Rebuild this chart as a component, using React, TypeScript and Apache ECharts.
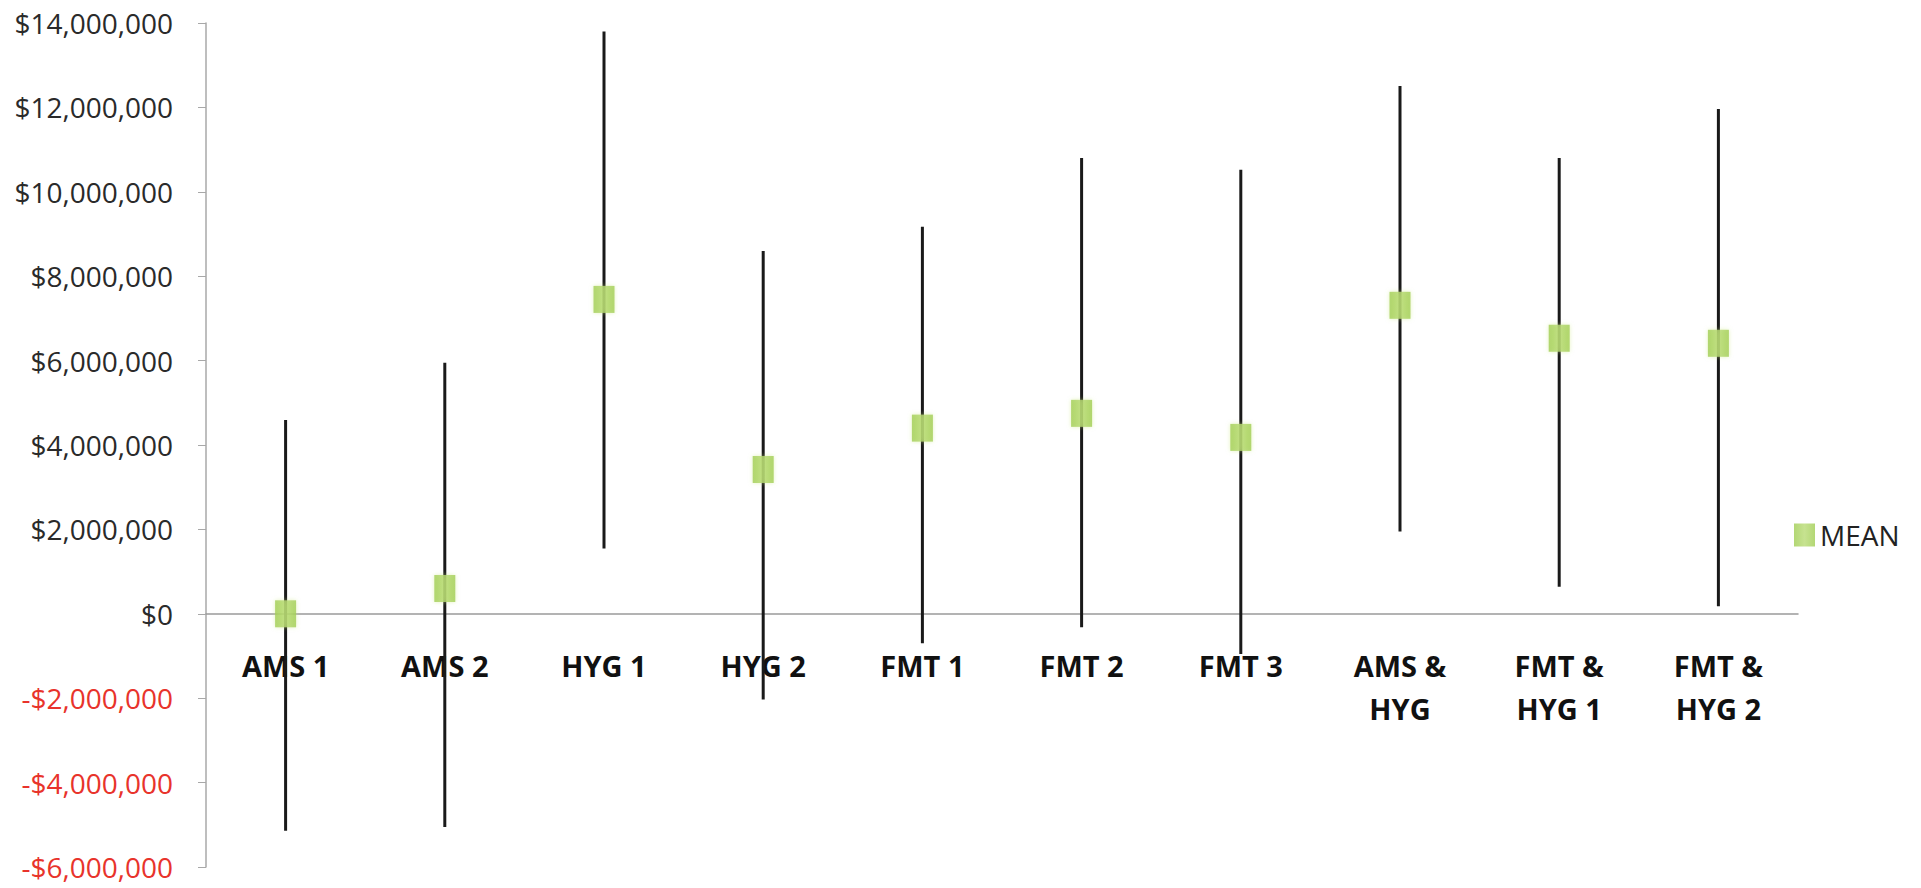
import React, { useEffect, useRef } from "react";
import * as echarts from "echarts";

const categories = [
  "AMS 1",
  "AMS 2",
  "HYG 1",
  "HYG 2",
  "FMT 1",
  "FMT 2",
  "FMT 3",
  "AMS &\nHYG",
  "FMT &\nHYG 1",
  "FMT &\nHYG 2",
];
const meanValues = [0, 600000, 7450000, 3420000, 4400000, 4750000, 4180000, 7310000, 6530000, 6410000];
const highValues = [4590000, 5950000, 13800000, 8600000, 9170000, 10800000, 10520000, 12510000, 10800000, 11960000];
const lowValues = [-5140000, -5050000, 1550000, -2030000, -700000, -320000, -950000, 1950000, 640000, 180000];

const yMin = -6000000;
const yMax = 14000000;
const yInterval = 2000000;

function fmtMoney(v: number): string {
  const abs = Math.abs(v).toLocaleString("en-US");
  return (v < 0 ? "-$" : "$") + abs;
}

export default function App() {
  const ref = useRef<HTMLDivElement>(null);
  useEffect(() => {
    document.body.style.margin = "0";
    if (!ref.current) return;
    const chart = echarts.init(ref.current, undefined, { renderer: "svg" });
    const errData = categories.map((_, i) => [i, lowValues[i], highValues[i]]);
    const labelData = categories.map((_, i) => [i, 0]);
    chart.setOption({
      animation: false,
      backgroundColor: "#ffffff",
      grid: { left: 206, right: 123, top: 23, bottom: 21, containLabel: false, outerBoundsMode: "none" },
      legend: {
        data: ["MEAN"],
        left: 1794,
        top: 521,
        padding: 0,
        orient: "vertical",
        icon: "rect",
        itemWidth: 21,
        itemHeight: 23,
        itemGap: 6,
        textStyle: { fontFamily: "Open Sans", fontSize: 28, color: "#222222", lineHeight: 28 },
      },
      xAxis: {
        type: "category",
        data: categories,
        boundaryGap: true,
        axisLine: { onZero: true, lineStyle: { color: "#9a9a9a", width: 1.5 } },
        axisTick: { show: false },
        splitLine: { show: false },
        axisLabel: { show: false },
      },
      yAxis: {
        type: "value",
        min: yMin,
        max: yMax,
        interval: yInterval,
        axisLine: { show: true, lineStyle: { color: "#a8a8a8", width: 1.5 } },
        axisTick: { show: true, inside: false, length: 8, lineStyle: { color: "#a8a8a8" } },
        splitLine: { show: false },
        axisLabel: {
          margin: 33,
          fontFamily: "Open Sans",
          fontSize: 28,
          color: (v: any) => (Number(v) < 0 ? "#e8332b" : "#2a2a2a"),
          formatter: (v: number) => fmtMoney(v),
        },
      },
      series: [
        {
          name: "categoryLabels",
          type: "custom",
          data: labelData,
          encode: { x: 0, y: 1 },
          silent: true,
          clip: false,
          renderItem: (params: any, api: any) => {
            const i = api.value(0);
            const p = api.coord([i, api.value(1)]);
            return {
              type: "text",
              x: p[0],
              y: p[1] + 30,
              style: {
                text: categories[i],
                fontFamily: "Open Sans",
                fontWeight: "bold",
                fontSize: 29,
                lineHeight: 43,
                fill: "#111111",
                align: "center",
                verticalAlign: "top",
              },
            };
          },
          z: 1,
        },
        {
          name: "range",
          type: "custom",
          data: errData,
          encode: { x: 0, y: [1, 2] },
          renderItem: (params: any, api: any) => {
            const x = api.value(0);
            const p1 = api.coord([x, api.value(1)]);
            const p2 = api.coord([x, api.value(2)]);
            return {
              type: "line",
              shape: { x1: p1[0], y1: p1[1], x2: p2[0], y2: p2[1] },
              style: { stroke: "#1a1a1a", lineWidth: 3 },
            };
          },
          z: 2,
        },
        {
          name: "MEAN",
          type: "scatter",
          data: meanValues,
          symbol: "rect",
          symbolSize: [21, 27],
          itemStyle: {
            color: new echarts.graphic.LinearGradient(0, 0, 1, 0, [
              { offset: 0, color: "#a0cd52" },
              { offset: 0.5, color: "#b8db74" },
              { offset: 1, color: "#a0cd52" },
            ]),
            shadowColor: "rgba(200,230,120,0.6)",
            shadowBlur: 4,
          },
          z: 3,
        },
      ],
    });
    return () => chart.dispose();
  }, []);
  return <div ref={ref} style={{ width: 1921, height: 888 }} />;
}
